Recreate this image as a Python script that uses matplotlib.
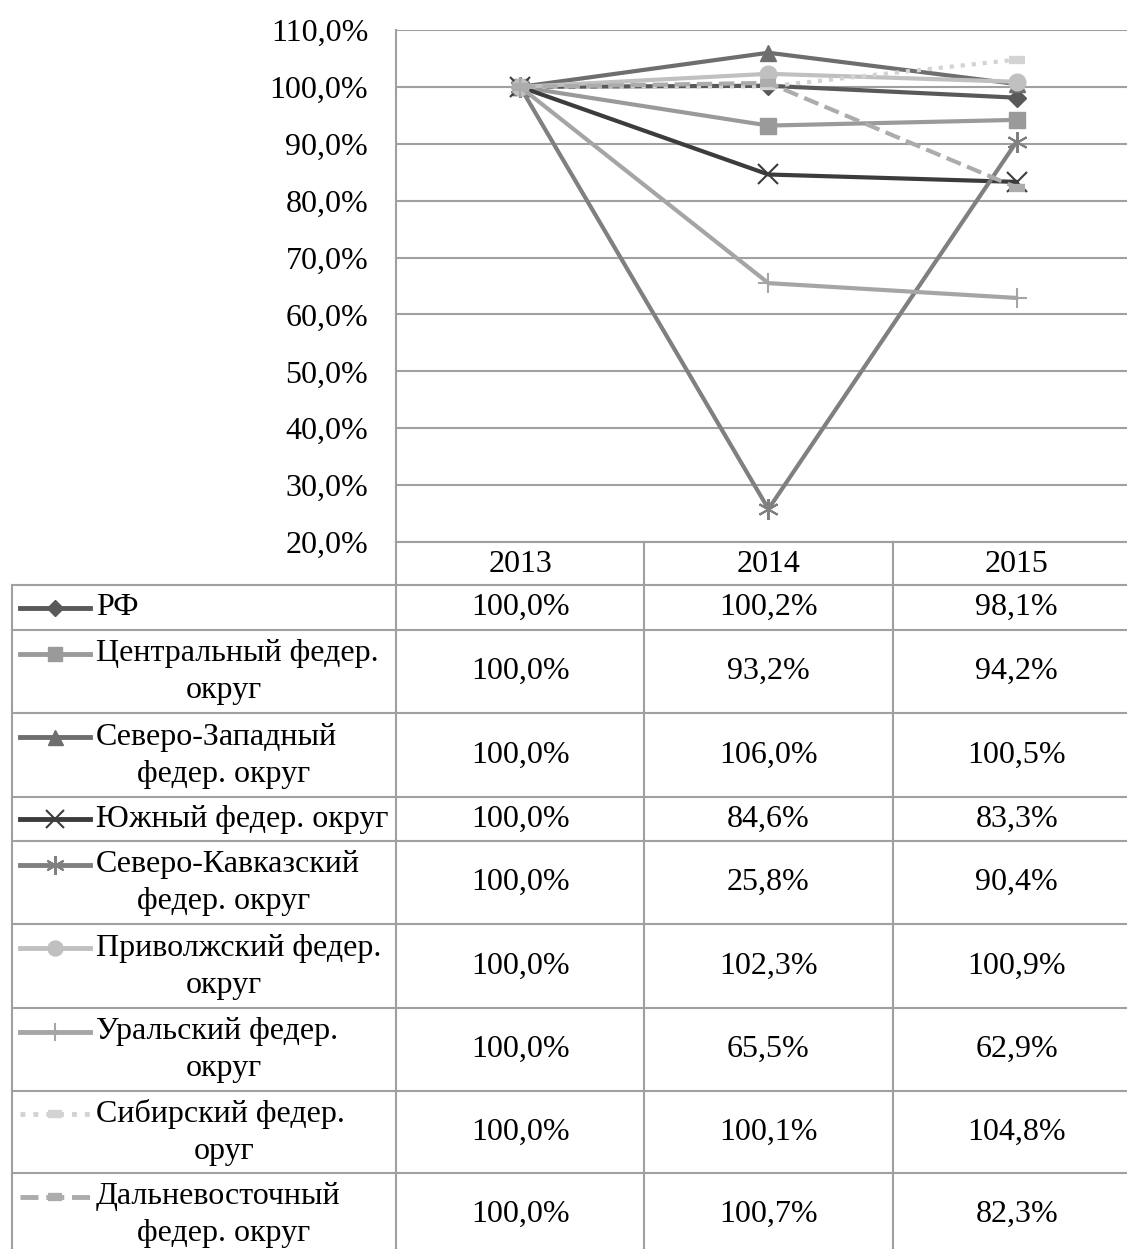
import matplotlib.pyplot as plt
from matplotlib.ticker import FuncFormatter

plt.rcParams['font.family'] = ['Liberation Serif', 'DejaVu Serif']
plt.rcParams['font.size'] = 23

# data
years = ['2013', '2014', '2015']
rf = [100.0, 100.2, 98.1]
central = [100.0, 93.2, 94.2]
northwest = [100.0, 106.0, 100.5]
south = [100.0, 84.6, 83.3]
ncaucasus = [100.0, 25.8, 90.4]
volga = [100.0, 102.3, 100.9]
ural = [100.0, 65.5, 62.9]
siberia = [100.0, 100.1, 104.8]
fareast = [100.0, 100.7, 82.3]

labels = [
    ['РФ'],
    ['Центральный федер.', 'округ'],
    ['Северо-Западный', 'федер. округ'],
    ['Южный федер. округ'],
    ['Северо-Кавказский', 'федер. округ'],
    ['Приволжский федер.', 'округ'],
    ['Уральский федер.', 'округ'],
    ['Сибирский федер.', 'оруг'],
    ['Дальневосточный', 'федер. округ'],
]
series = [rf, central, northwest, south, ncaucasus, volga, ural, siberia, fareast]

# styles: color, linestyle, marker, markersize, mew
dash_mark = '_'
styles = [
    ('#595959', '-', 'D', 9, 1),
    ('#9a9a9a', '-', 's', 11, 1),
    ('#6e6e6e', '-', '^', 12, 1),
    ('#3c3c3c', '-', 'x', 14, 1.5),
    ('#808080', '-', (6, 2, 0), 15, 1.5),
    ('#c0c0c0', '-', 'o', 12, 1),
    ('#a5a5a5', '-', '+', 15, 1.5),
    ('#d3d3d3', ':', dash_mark, 11, 6),
    ('#acacac', '--', dash_mark, 11, 6),
]

W, H = 1127, 1249
fig = plt.figure(figsize=(W / 100, H / 100), dpi=100)

# plot area (cropped on the right like the source)
left, top, bottom = 396, 30, 542
colw = 248.3
ax = fig.add_axes([left / W, 1 - bottom / H, 3 * colw / W, (bottom - top) / H])
x = range(len(years))
for s, (c, ls, m, ms, mew) in zip(series, styles):
    ax.plot(x, s, color=c, ls=ls, lw=3, marker=m, ms=ms, mfc=c, mec=c, mew=mew,
            solid_capstyle='round')
ax.set_xlim(-0.5, 2.5)
ax.set_ylim(20, 110)
ax.set_yticks(range(20, 111, 10))
ax.yaxis.set_major_formatter(FuncFormatter(lambda v, p: f'{v:.1f}%'.replace('.', ',')))
ax.set_xticks([])
ax.tick_params(axis='y', length=0, pad=20)
ax.grid(axis='y', color='#a0a0a0', lw=1.5)
for sp in ['top', 'right', 'bottom']:
    ax.spines[sp].set_visible(False)
ax.spines['left'].set_color('#a0a0a0')
ax.spines['left'].set_linewidth(1.5)

# data table below
tb = fig.add_axes([0, 0, 1, 1])
tb.set_xlim(0, W)
tb.set_ylim(H, 0)
tb.axis('off')
tb.patch.set_alpha(0)

gc = '#a0a0a0'
tab_left = 12
right_edge = W + 20
col_x = [left, left + colw, left + 2 * colw]
row_y = [585, 630, 713, 797, 841, 924, 1008, 1091, 1173, H + 20]

# header
tb.plot([left, right_edge], [bottom, bottom], color=gc, lw=1.5)
tb.plot([tab_left, right_edge], [row_y[0], row_y[0]], color=gc, lw=1.5)
for cx in col_x:
    tb.plot([cx, cx], [bottom, H + 20], color=gc, lw=1.5)
tb.plot([tab_left, tab_left], [row_y[0], H + 20], color=gc, lw=1.5)
for i, yr in enumerate(years):
    tb.text(left + colw * (i + 0.5), 564, yr, ha='center', va='center')

for r, (lab, s, st) in enumerate(zip(labels, series, styles)):
    y0, y1 = row_y[r], row_y[r + 1]
    if r + 1 < len(row_y) - 1:
        tb.plot([tab_left, right_edge], [y1, y1], color=gc, lw=1.5)
    if r == len(labels) - 1:
        y1 = 1256
    ymid = (y0 + y1) / 2
    if len(lab) == 1:
        ly = [ymid]
    else:
        ly = [ymid - 18, ymid + 19]
    c, ls, m, ms, mew = st
    tb.plot([20, 90], [ly[0], ly[0]], color=c, ls=ls, lw=3.5)
    tb.plot([55], [ly[0]], color=c, marker=m, ms=ms * 0.9, mfc=c, mec=c, mew=mew)
    tb.text(96, ly[0], lab[0], ha='left', va='center')
    if len(lab) > 1:
        tb.text(224, ly[1], lab[1], ha='center', va='center')
    for i, v in enumerate(s):
        tb.text(left + colw * (i + 0.5), ymid, f'{v:.1f}%'.replace('.', ','),
                ha='center', va='center')

fig.savefig('out.png', dpi=100)
